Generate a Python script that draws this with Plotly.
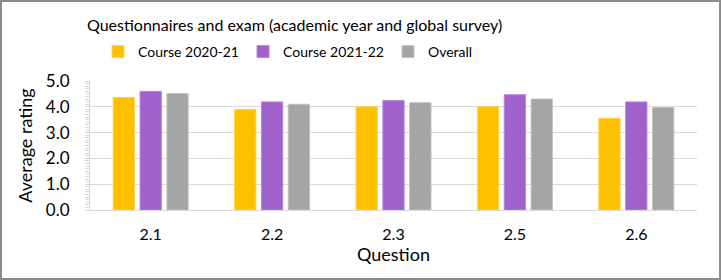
import plotly.graph_objects as go

questions = ["2.1", "2.2", "2.3", "2.5", "2.6"]
course_2020_21 = [4.36, 3.90, 4.00, 4.00, 3.55]
course_2021_22 = [4.60, 4.19, 4.24, 4.47, 4.19]
overall = [4.51, 4.10, 4.16, 4.30, 3.97]

series = [
    ("Course 2020-21", course_2020_21, "#FFC000", "#FFD24D"),
    ("Course 2021-22", course_2021_22, "#A061CC", "#B985DB"),
    ("Overall", overall, "#A5A5A5", "#C0C0C0"),
]

FONT = "Lato"
W, H = 721, 280
L, R, T, B = 90, 24, 81, 70

fig = go.Figure()
for name, vals, col, lcol in series:
    fig.add_trace(go.Bar(x=questions, y=vals, name=name,
                         marker=dict(color=col, line=dict(color=lcol, width=1))))

pw = W - L - R
ph = H - T - B
fig.add_shape(type="rect", xref="paper", yref="paper",
              x0=-(L - 1) / pw, x1=1 + (R - 1) / pw,
              y0=-(B - 1) / ph, y1=1 + (T - 1) / ph,
              line=dict(color="#8C8C8C", width=2), layer="below")

fig.update_layout(
    width=W, height=H,
    margin=dict(l=L, r=R, t=T, b=B, autoexpand=False),
    paper_bgcolor="white", plot_bgcolor="white",
    font=dict(family=FONT, color="#000000"),
    title=dict(text="Questionnaires and exam (academic year and global survey)",
               x=87 / W, xanchor="left", xref="container",
               y=1 - 25 / H, yanchor="middle", yref="container",
               pad=dict(l=0, r=0, t=0, b=0),
               font=dict(size=16, family=FONT, color="#000000")),
    barmode="group", bargap=0.337, bargroupgap=0.207,
    legend=dict(orientation="h", x=(98 - L) / pw, xanchor="left",
                y=1 + (T - 52) / ph, yanchor="middle",
                entrywidth=100, entrywidthmode="pixels",
                font=dict(size=14, family=FONT), itemwidth=30,
                bgcolor="rgba(0,0,0,0)"),
    showlegend=True,
)
fig.update_xaxes(showgrid=False, showline=True, linecolor="#D9D9D9", linewidth=1,
                 ticks="", tickfont=dict(size=16, family=FONT),
                 ticklabelstandoff=10,
                 title=dict(text="Question", font=dict(size=18, family=FONT), standoff=5))
fig.update_yaxes(range=[0, 5], dtick=1, tickformat=".1f",
                 showgrid=True, gridcolor="#D9D9D9", gridwidth=1,
                 showline=True, linecolor="#D9D9D9", linewidth=1,
                 ticks="outside", ticklen=4, tickcolor="#D9D9D9",
                 minor=dict(dtick=0.1, ticks="outside", ticklen=4, tickcolor="#D9D9D9"),
                 tickfont=dict(size=17, family=FONT), ticklabelstandoff=12,
                 title=dict(text="Average rating", font=dict(size=18, family=FONT), standoff=8),
                 zeroline=False)

fig.write_html("out.html", config={"displayModeBar": False},
               post_script="document.body.style.margin='0';")
